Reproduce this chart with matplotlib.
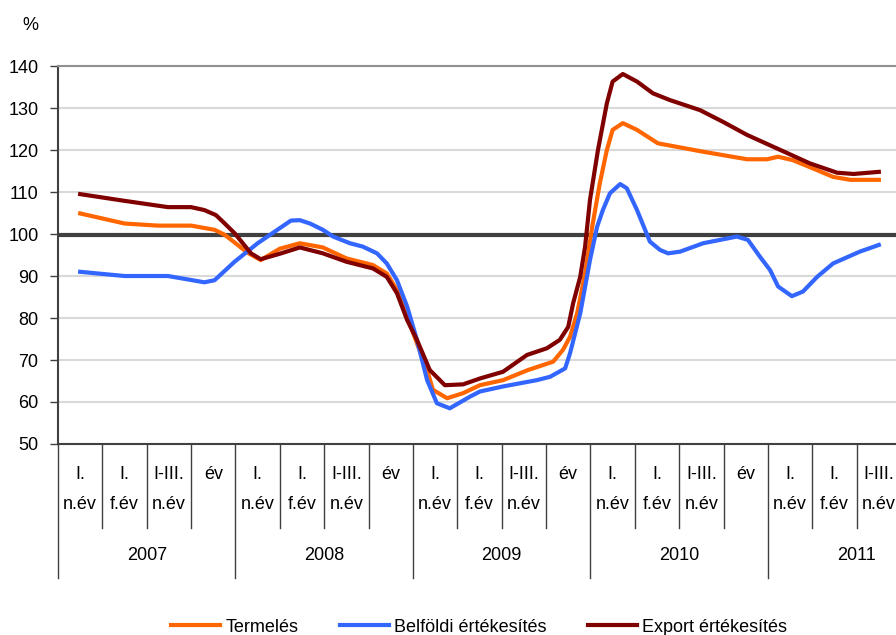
import matplotlib.pyplot as plt
from matplotlib.transforms import blended_transform_factory

plt.rcParams['font.family'] = ['Liberation Sans', 'DejaVu Sans']

# negyedéves kumulált időszakok
top_labels = ['I.', 'I.', 'I-III.', 'év'] * 4 + ['I.', 'I.', 'I-III.']
bottom_labels = ['n.év', 'f.év', 'n.év', ''] * 4 + ['n.év', 'f.év', 'n.év']
years = ['2007', '2008', '2009', '2010', '2011']

# x helyzet kategória-egységben (0 = 2007 I. n.év)
termeles_x = [0, 1.0, 1.75, 2.5, 3.03, 3.26, 3.78, 4.07, 4.5, 4.95, 5.47, 6.0, 6.6,
              6.91, 7.14, 7.37, 7.59, 7.82, 7.95, 8.27, 8.63, 9.01, 9.53, 10.09,
              10.66, 10.88, 11.04, 11.2, 11.38, 11.54, 11.71, 11.87, 12.0, 12.23,
              12.55, 13.02, 14.04, 15.03, 15.48, 15.73, 16.06, 16.52, 16.97, 17.36, 18.0]
termeles = [104.9, 102.5, 102, 102, 101, 99.8, 95.5, 93.8, 96.5, 97.8, 96.8, 94.2, 92.6,
            90.6, 86.7, 80.3, 74, 67.6, 62.9, 60.9, 62.1, 64, 65.2, 67.6,
            69.6, 72.4, 75.5, 81.1, 90.6, 101.7, 112, 120, 124.8, 126.4,
            124.8, 121.6, 119.6, 117.8, 117.8, 118.4, 117.6, 115.6, 113.6, 112.9, 112.9]

belfoldi_x = [0, 1.0, 1.98, 2.8, 3.03, 3.48, 4.0, 4.75, 4.95, 5.18, 5.47, 5.7, 6.08,
              6.37, 6.69, 6.91, 7.14, 7.37, 7.59, 7.82, 8.04, 8.33, 8.79, 9.01, 9.53,
              10.29, 10.59, 10.93, 11.04, 11.27, 11.49, 11.65, 11.78, 11.94, 12.17,
              12.32, 12.55, 12.84, 13.07, 13.25, 13.52, 14.04, 14.8, 15.05, 15.32,
              15.55, 15.73, 16.04, 16.29, 16.61, 16.97, 17.57, 18.0]
belfoldi = [91, 90, 90, 88.5, 89, 93.4, 97.8, 103.2, 103.3, 102.5, 101, 99.4, 97.8,
            97, 95.4, 93, 89, 82.7, 74.8, 65.2, 59.7, 58.5, 61.3, 62.5, 63.7,
            65.2, 66, 68, 71.6, 81.1, 93.8, 101.7, 105.7, 109.7, 111.9,
            110.9, 105.7, 98.2, 96.2, 95.4, 95.8, 97.8, 99.4, 98.6, 94.6,
            91.4, 87.5, 85.2, 86.3, 89.8, 93, 95.8, 97.4]

export_x = [0, 1.0, 1.98, 2.5, 2.8, 3.06, 3.22, 3.48, 3.85, 4.07, 4.5, 4.95, 5.47, 6.0,
            6.6, 6.91, 7.14, 7.37, 7.59, 7.88, 8.22, 8.63, 9.01, 9.53, 10.07, 10.52,
            10.81, 11.0, 11.11, 11.27, 11.38, 11.49, 11.67, 11.87, 12.0, 12.23, 12.55,
            12.91, 13.29, 13.97, 14.49, 15.03, 15.7, 16.45, 17.06, 17.43, 18.0]
export = [109.5, 107.9, 106.4, 106.4, 105.7, 104.5, 102.9, 100.2, 95.4, 94, 95.3, 96.8, 95.4, 93.4,
          91.8, 89.8, 85.9, 79.5, 74.8, 67.6, 64, 64.2, 65.6, 67.2, 71.2, 72.8,
          74.8, 77.9, 83.5, 89.8, 97, 108.1, 120, 131.1, 136.3, 138.1, 136.3,
          133.5, 131.9, 129.5, 126.7, 123.6, 120.4, 116.8, 114.6, 114.3, 114.8]

fig = plt.figure(figsize=(8.96, 6.35), dpi=100)
ax = fig.add_axes([0.0647, 0.3008, 0.9409, 0.5952])

ax.plot(termeles_x, termeles, color='#FF6600', lw=3, label='Termelés', zorder=3)
ax.plot(belfoldi_x, belfoldi, color='#3366FF', lw=3, label='Belföldi értékesítés', zorder=3)
ax.plot(export_x, export, color='#800000', lw=3, label='Export értékesítés', zorder=4)
ax.axhline(99.8, color='#404040', lw=3, zorder=2)

ax.set_xlim(-0.5, 18.5)
ax.set_ylim(50, 140)
ax.set_yticks(range(50, 141, 10))
ax.yaxis.grid(True, color='#d9d9d9', lw=1.5)
ax.set_axisbelow(True)
ax.tick_params(axis='y', labelsize=13, length=6, width=1, color='#404040', pad=8)
ax.set_xticks([])
for s in ['right']:
    ax.spines[s].set_visible(False)
ax.spines['top'].set_color('#909090')
ax.spines['top'].set_linewidth(1.5)
ax.spines['left'].set_color('#404040')
ax.spines['left'].set_linewidth(1.5)
ax.spines['bottom'].set_color('#404040')
ax.spines['bottom'].set_linewidth(1.5)

trans = blended_transform_factory(ax.transData, ax.transAxes)
for i in range(len(top_labels)):
    ax.text(i, -0.082, top_labels[i], transform=trans, ha='center', va='center', fontsize=13)
    ax.text(i, -0.161, bottom_labels[i], transform=trans, ha='center', va='center', fontsize=13)
for i in range(len(top_labels) + 1):
    b = i - 0.5
    low = -0.354 if i % 4 == 0 else -0.222
    ax.plot([b, b], [0, low], transform=trans, color='#404040', lw=1, clip_on=False)
for k, yr in enumerate(years):
    ax.text(4 * k + 1.5, -0.294, yr, transform=trans, ha='center', va='center', fontsize=13)

fig.text(0.025, 0.96, '%', fontsize=13, ha='left', va='center')

fig.legend(loc='center', bbox_to_anchor=(0.535, 1 - 627 / 635), ncol=3, frameon=False,
           fontsize=13, handlelength=2.7, handletextpad=0.3, columnspacing=2.3)

plt.savefig('out.png', dpi=100)
